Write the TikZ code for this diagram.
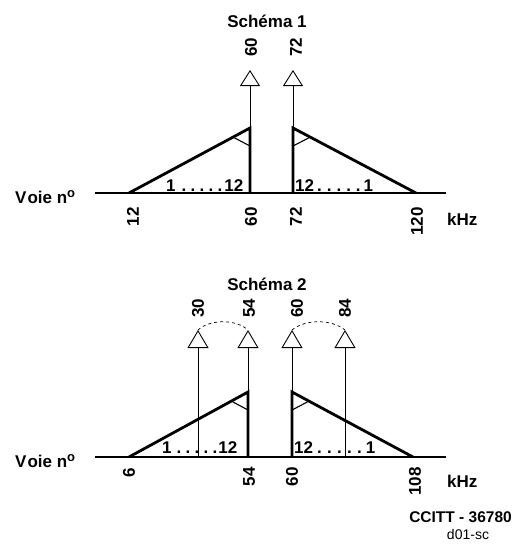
\documentclass[tikz,border=0pt]{standalone}
\usepackage{fontspec}
\setmainfont{Liberation Sans}
\usetikzlibrary{arrows.meta,calc}
\begin{document}
\begin{tikzpicture}[x=1pt,y=-1pt,
  baseln/.style={line width=2.8pt},
  tri/.style={line width=2.8pt,line join=miter},
  thinar/.style={line width=0.9pt,-{Triangle[open,width=20pt,length=16pt]}},
  thinarb/.style={line width=0.9pt,-{Triangle[open,width=21pt,length=18pt]}},
  anglemark/.style={line width=1.1pt},
  arcd/.style={line width=0.7pt,dash pattern=on 3pt off 3pt},
  lbl/.style={font=\bfseries\fontsize{17}{17}\selectfont,inner sep=0pt},
  rlbltop/.style={lbl,rotate=90,anchor=west},
  rlblbot/.style={lbl,rotate=90,anchor=east},
  small/.style={font=\fontsize{14}{14}\selectfont,inner sep=0pt}]
\useasboundingbox (0,0) rectangle (516,544);

% ---------------- Schema 1 ----------------
\node[lbl] (t1) at (267,21) {Schéma 1};
\coordinate (L0) at (95,193);
\coordinate (L1) at (446,193);
\coordinate (A) at (129,193);
\coordinate (B) at (250,193);
\coordinate (Bt) at (250,128);
\coordinate (C) at (293,193);
\coordinate (Ct) at (293,128);
\coordinate (D) at (416,193);
\coordinate (hB) at (250,70);
\coordinate (hC) at (293,70);

\draw[baseln] (L0) -- (L1);
\draw[tri] (A) -- (Bt) -- (B);
\draw[tri] (D) -- (Ct) -- (C);
\draw[thinar] (B) -- (hB);
\draw[thinar] (C) -- (hC);
\coordinate (mB1) at ($(A)!0.86!(Bt)$);
\coordinate (mB2) at (250,146);
\coordinate (mC1) at ($(D)!0.86!(Ct)$);
\coordinate (mC2) at (293,146);
\draw[anglemark] (mB1) -- (mB2);
\draw[anglemark] (mC1) -- (mC2);

\node[lbl,anchor=base west] (d1l) at (166,191) {1\kern6pt.\kern4.3pt.\kern4.3pt.\kern4.3pt.\kern4.3pt.\kern2pt12};
\node[lbl,anchor=base west] (d1r) at (295,191) {12\kern3pt.\kern5pt.\kern5pt.\kern5pt.\kern5pt.\kern3pt1};

\node[rlbltop] (u60) at (251,57) {60};
\node[rlbltop] (u72) at (296,57) {72};
\node[rlblbot] (b12) at (133,207) {12};
\node[rlblbot] (b60) at (251,207) {60};
\node[rlblbot] (b72) at (296,207) {72};
\node[rlblbot] (b120) at (417,207) {120};

\node[lbl,anchor=base west] (v1) at (15,203) {V\kern1pt oie n\raisebox{6pt}{\fontsize{13}{13}\selectfont o}};
\node[lbl,anchor=base west] (k1) at (447,225) {kHz};

% ---------------- Schema 2 ----------------
\node[lbl] (t2) at (267,284) {Schéma 2};
\coordinate (M0) at (95,457);
\coordinate (M1) at (446,457);
\coordinate (E) at (129,457);
\coordinate (F) at (248,457);
\coordinate (Ft) at (248,392);
\coordinate (G) at (292,457);
\coordinate (Gt) at (292,392);
\coordinate (H) at (413,457);
\coordinate (P30) at (198,457);
\coordinate (P84) at (345,457);
\coordinate (h30) at (198,330);
\coordinate (h54) at (248,330);
\coordinate (h60) at (292,330);
\coordinate (h84) at (345,330);

\draw[baseln] (M0) -- (M1);
\draw[tri] (E) -- (Ft) -- (F);
\draw[tri] (H) -- (Gt) -- (G);
\draw[thinarb] (P30) -- (h30);
\draw[thinarb] (F) -- (h54);
\draw[thinarb] (G) -- (h60);
\draw[thinarb] (P84) -- (h84);
\coordinate (mF1) at ($(E)!0.86!(Ft)$);
\coordinate (mF2) at (248,410);
\coordinate (mG1) at ($(H)!0.86!(Gt)$);
\coordinate (mG2) at (292,410);
\draw[anglemark] (mF1) -- (mF2);
\draw[anglemark] (mG1) -- (mG2);
\draw[arcd] (h30) .. controls (210,319) and (236,319) .. (h54);
\draw[arcd] (h60) .. controls (305,319) and (332,319) .. (h84);

\node[lbl,anchor=base west] (d2l) at (162,453) {1\kern5pt.\kern4.3pt.\kern4.3pt.\kern4.3pt.\kern4.3pt.\kern1pt12};
\node[lbl,anchor=base west] (d2r) at (294,453) {12\kern4pt.\kern5.3pt.\kern5.3pt.\kern5.3pt.\kern5.3pt.\kern4pt1};

\node[rlbltop] (u30) at (198,318) {30};
\node[rlbltop] (u54) at (249,318) {54};
\node[rlbltop] (u60b) at (297,318) {60};
\node[rlbltop] (u84) at (345,318) {84};
\node[rlblbot] (b6) at (129,468) {6};
\node[rlblbot] (b54) at (249,467) {54};
\node[rlblbot] (b60b) at (292,467) {60};
\node[rlblbot] (b108) at (415,467) {108};

\node[lbl,anchor=base west] (v2) at (15,467) {V\kern1pt oie n\raisebox{6pt}{\fontsize{13}{13}\selectfont o}};
\node[lbl,anchor=base west] (k2) at (447,487) {kHz};

\node[lbl,font=\bfseries\fontsize{15.5}{15.5}\selectfont,anchor=base east] (cc) at (512,522) {CCITT - 36780};
\node[small,anchor=base] (ds) at (468,539) {d01-sc};
\end{tikzpicture}
\end{document}
